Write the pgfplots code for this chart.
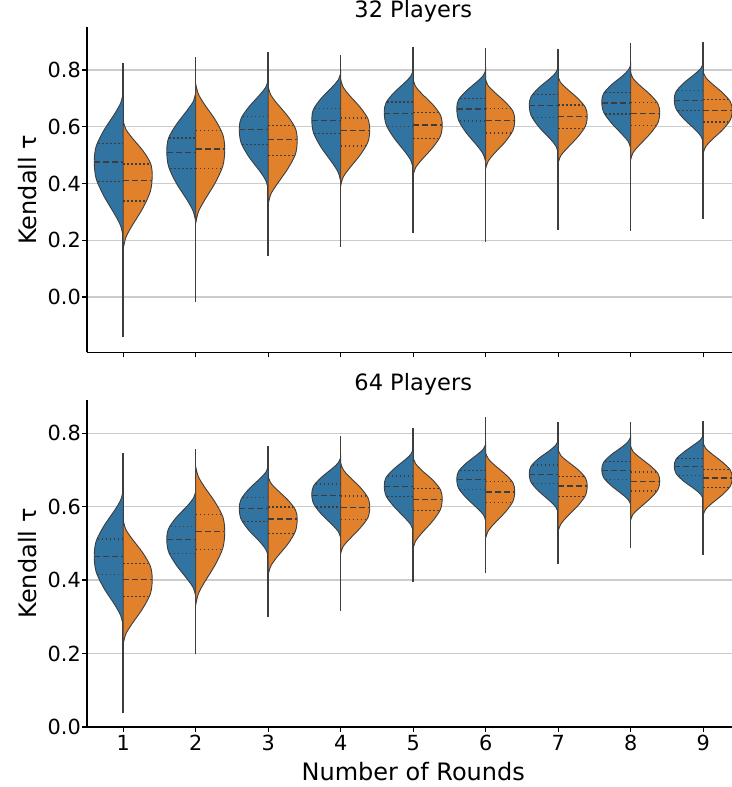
\documentclass[border=0pt]{standalone}
\usepackage{fontspec}
\setmainfont{DejaVu Sans}
\usepackage{pgfplots}
\usepackage{pgfplotstable}
\pgfplotsset{compat=1.18}
\definecolor{vblue}{RGB}{50,116,161}
\definecolor{vorange}{RGB}{225,129,44}
\definecolor{edge}{RGB}{61,61,61}

% half-violin profiles: w = half width, bK/oK = y of blue/orange half of round K
\pgfplotstableread{
w     b1   o1   b2   o2   b3   o3   b4   o4   b5   o5   b6   o6   b7   o7   b8   o8   b9   o9
0     .720 .620 .720 .750 .765 .740 .790 .765 .800 .765 .800 .765 .810 .776 .818 .790 .824 .793
0.035 .684 .592 .689 .716 .739 .712 .765 .739 .778 .741 .780 .744 .790 .755 .799 .769 .805 .773
0.115 .647 .563 .659 .681 .713 .684 .741 .712 .756 .717 .760 .723 .770 .735 .779 .748 .786 .753
0.27  .586 .516 .607 .624 .669 .637 .700 .668 .719 .678 .726 .687 .737 .700 .747 .713 .754 .719
0.375 .530 .472 .560 .571 .629 .594 .662 .628 .685 .641 .695 .655 .706 .668 .717 .681 .724 .688
0.40  .477 .430 .515 .520 .590 .553 .626 .589 .652 .606 .665 .624 .677 .638 .688 .650 .696 .658
0.375 .418 .373 .460 .463 .544 .503 .578 .546 .608 .567 .623 .587 .640 .602 .652 .614 .663 .625
0.27  .357 .313 .402 .403 .495 .452 .527 .501 .562 .527 .579 .547 .600 .564 .614 .576 .628 .590
0.115 .290 .248 .340 .338 .443 .395 .472 .452 .512 .483 .532 .505 .558 .522 .572 .534 .591 .553
0.035 .250 .209 .302 .299 .411 .362 .439 .423 .482 .457 .503 .479 .533 .498 .548 .510 .568 .530
0     .210 .170 .265 .260 .380 .328 .406 .394 .452 .431 .475 .454 .507 .473 .523 .485 .546 .508
}\toptab

\pgfplotstableread{
w     b1   o1   b2   o2   b3   o3   b4   o4   b5   o5   b6   o6   b7   o7   b8   o8   b9   o9
0     .645 .562 .641 .708 .710 .681 .734 .718 .757 .732 .770 .745 .780 .754 .790 .763 .795 .772
0.035 .618 .538 .622 .682 .693 .664 .719 .700 .742 .716 .756 .730 .767 .739 .777 .749 .782 .758
0.115 .591 .514 .602 .655 .676 .647 .704 .682 .727 .699 .742 .714 .753 .725 .763 .735 .770 .744
0.27  .546 .474 .570 .611 .647 .618 .679 .652 .702 .672 .718 .688 .731 .701 .741 .711 .748 .720
0.375 .505 .437 .540 .571 .620 .591 .656 .624 .679 .646 .696 .665 .710 .678 .720 .690 .729 .699
0.40  .465 .402 .511 .532 .595 .566 .634 .598 .657 .622 .675 .642 .690 .657 .700 .669 .710 .678
0.375 .423 .363 .477 .488 .566 .533 .608 .570 .629 .592 .650 .614 .666 .630 .679 .646 .690 .656
0.27  .379 .323 .441 .442 .536 .498 .580 .542 .601 .561 .624 .585 .642 .602 .657 .622 .669 .633
0.115 .332 .279 .402 .392 .504 .461 .550 .510 .569 .527 .595 .553 .615 .571 .633 .595 .647 .608
0.035 .303 .253 .379 .362 .484 .438 .532 .492 .551 .507 .578 .534 .599 .552 .619 .580 .633 .593
0     .275 .227 .356 .332 .465 .416 .514 .473 .532 .487 .561 .515 .583 .534 .605 .564 .620 .578
}\bottab

\pgfplotsset{
  bl/.style={fill=vblue, draw=edge, line width=0.9pt, smooth},
  ol/.style={fill=vorange, draw=edge, line width=0.9pt, smooth},
  qm/.style={edge, line width=1.3pt, dash pattern=on 6pt off 3pt},
  qs/.style={edge, line width=1.3pt, dash pattern=on 1.6pt off 2.4pt},
  common/.style={
    scale only axis, width=652.5pt,
    xmin=0.5, xmax=9.5,
    axis x line*=bottom, axis y line*=left,
    axis line style={-, black, line width=1.1pt},
    tick align=outside, major tick length=5pt,
    every tick/.style={black, line width=1.1pt},
    xtick={1,2,3,4,5,6,7,8,9},
    ytick={0,0.2,0.4,0.6,0.8},
    ymajorgrids,
    major grid style={gray!40, line width=1.1pt},
    /pgf/number format/assume math mode=true,
    ticklabel style={font=\fontsize{20.8}{24}\selectfont},
    yticklabel style={inner sep=1pt, /pgf/number format/fixed, /pgf/number format/fixed zerofill, /pgf/number format/precision=1},
    xticklabel style={inner sep=3pt},
    title style={font=\fontsize{22.5}{26}\selectfont, at={(0.5,1)}, anchor=base, yshift=3.5pt},
    label style={font=\fontsize{24}{28}\selectfont},
    ylabel={Kendall τ},
    ylabel style={at={(axis description cs:-0.077,0.5)}, anchor=base},
  },
}
\newcommand\vl[3]{\addplot[edge, line width=1.5pt] coordinates {(#1,#2) (#1,#3)};}
\newcommand\ql[4]{\addplot[#1] coordinates {(#2,#4) (#3,#4)};}
\newcommand\hb[3]{\addplot[bl] table[x expr={#2-\thisrow{w}}, y=#3] {#1} -- cycle;}
\newcommand\ho[3]{\addplot[ol] table[x expr={#2+\thisrow{w}}, y=#3] {#1} -- cycle;}

\begin{document}
\begin{tikzpicture}
\begin{axis}[common, at={(0,374.7pt)}, anchor=south west, height=325pt,
  ymin=-0.195, ymax=0.9505, xticklabels={}, title={32 Players}]
\vl{1}{-.141}{.826} \vl{2}{-.016}{.845} \vl{3}{.144}{.865} \vl{4}{.177}{.853} \vl{5}{.224}{.882}
\vl{6}{.195}{.876} \vl{7}{.236}{.873} \vl{8}{.233}{.896} \vl{9}{.274}{.898}
\hb{\toptab}{1}{b1} \ho{\toptab}{1}{o1}
\hb{\toptab}{2}{b2} \ho{\toptab}{2}{o2}
\hb{\toptab}{3}{b3} \ho{\toptab}{3}{o3}
\hb{\toptab}{4}{b4} \ho{\toptab}{4}{o4}
\hb{\toptab}{5}{b5} \ho{\toptab}{5}{o5}
\hb{\toptab}{6}{b6} \ho{\toptab}{6}{o6}
\hb{\toptab}{7}{b7} \ho{\toptab}{7}{o7}
\hb{\toptab}{8}{b8} \ho{\toptab}{8}{o8}
\hb{\toptab}{9}{b9} \ho{\toptab}{9}{o9}
\ql{qs}{0.655}{1}{.542} \ql{qm}{0.603}{1}{.476} \ql{qs}{0.655}{1}{.406}
\ql{qs}{1}{1.374}{.469} \ql{qm}{1}{1.397}{.411} \ql{qs}{1}{1.304}{.338}
\ql{qs}{1.63}{2}{.560} \ql{qm}{1.602}{2}{.510} \ql{qs}{1.646}{2}{.452}
\ql{qs}{2}{2.335}{.587} \ql{qm}{2}{2.398}{.522} \ql{qs}{2}{2.349}{.452}
\ql{qs}{2.648}{3}{.635} \ql{qm}{2.602}{3}{.590} \ql{qs}{2.644}{3}{.538}
\ql{qs}{3}{3.341}{.605} \ql{qm}{3}{3.398}{.554} \ql{qs}{3}{3.358}{.498}
\ql{qs}{3.639}{4}{.665} \ql{qm}{3.602}{4}{.623} \ql{qs}{3.631}{4}{.577}
\ql{qs}{4}{4.36}{.631} \ql{qm}{4}{4.398}{.586} \ql{qs}{4}{4.334}{.532}
\ql{qs}{4.638}{5}{.687} \ql{qm}{4.602}{5}{.646} \ql{qs}{4.645}{5}{.602}
\ql{qs}{5}{5.339}{.651} \ql{qm}{5}{5.398}{.606} \ql{qs}{5}{5.343}{.558}
\ql{qs}{5.649}{6}{.700} \ql{qm}{5.602}{6}{.663} \ql{qs}{5.638}{6}{.620}
\ql{qs}{6}{6.335}{.665} \ql{qm}{6}{6.398}{.623} \ql{qs}{6}{6.345}{.578}
\ql{qs}{6.655}{7}{.713} \ql{qm}{6.602}{7}{.674} \ql{qs}{6.649}{7}{.633}
\ql{qs}{7}{7.339}{.677} \ql{qm}{7}{7.398}{.637} \ql{qs}{7}{7.344}{.593}
\ql{qs}{7.647}{8}{.721} \ql{qm}{7.602}{8}{.684} \ql{qs}{7.65}{8}{.645}
\ql{qs}{8}{8.352}{.686} \ql{qm}{8}{8.398}{.647} \ql{qs}{8}{8.344}{.605}
\ql{qs}{8.645}{9}{.728} \ql{qm}{8.602}{9}{.693} \ql{qs}{8.653}{9}{.656}
\ql{qs}{9}{9.343}{.695} \ql{qm}{9}{9.398}{.658} \ql{qs}{9}{9.344}{.617}
\end{axis}

\begin{axis}[common, at={(0,0)}, anchor=south west, height=327pt,
  ymin=0, ymax=0.89, title={64 Players},
  xlabel={Number of Rounds},
  xlabel style={at={(axis description cs:0.5,-0.165)}, anchor=base}]
\vl{1}{.039}{.746} \vl{2}{.200}{.758} \vl{3}{.299}{.765} \vl{4}{.316}{.792} \vl{5}{.395}{.813}
\vl{6}{.418}{.844} \vl{7}{.445}{.831} \vl{8}{.486}{.829} \vl{9}{.468}{.833}
\hb{\bottab}{1}{b1} \ho{\bottab}{1}{o1}
\hb{\bottab}{2}{b2} \ho{\bottab}{2}{o2}
\hb{\bottab}{3}{b3} \ho{\bottab}{3}{o3}
\hb{\bottab}{4}{b4} \ho{\bottab}{4}{o4}
\hb{\bottab}{5}{b5} \ho{\bottab}{5}{o5}
\hb{\bottab}{6}{b6} \ho{\bottab}{6}{o6}
\hb{\bottab}{7}{b7} \ho{\bottab}{7}{o7}
\hb{\bottab}{8}{b8} \ho{\bottab}{8}{o8}
\hb{\bottab}{9}{b9} \ho{\bottab}{9}{o9}
\ql{qs}{.65}{1}{.512} \ql{qm}{.602}{1}{.465} \ql{qs}{.649}{1}{.416}
\ql{qs}{1}{1.346}{.445} \ql{qm}{1}{1.398}{.402} \ql{qs}{1}{1.346}{.355}
\ql{qs}{1.654}{2}{.546} \ql{qm}{1.602}{2}{.511} \ql{qs}{1.642}{2}{.473}
\ql{qs}{2}{2.347}{.579} \ql{qm}{2}{2.398}{.532} \ql{qs}{2}{2.36}{.484}
\ql{qs}{2.65}{3}{.625} \ql{qm}{2.602}{3}{.594} \ql{qs}{2.654}{3}{.560}
\ql{qs}{3}{3.337}{.599} \ql{qm}{3}{3.398}{.566} \ql{qs}{3}{3.35}{.527}
\ql{qs}{3.655}{4}{.661} \ql{qm}{3.602}{4}{.631} \ql{qs}{3.665}{4}{.599}
\ql{qs}{4}{4.351}{.629} \ql{qm}{4}{4.398}{.598} \ql{qs}{4}{4.348}{.565}
\ql{qs}{4.65}{5}{.683} \ql{qm}{4.602}{5}{.655} \ql{qs}{4.64}{5}{.627}
\ql{qs}{5}{5.352}{.650} \ql{qm}{5}{5.398}{.620} \ql{qs}{5}{5.362}{.590}
\ql{qs}{5.647}{6}{.699} \ql{qm}{5.602}{6}{.673} \ql{qs}{5.643}{6}{.647}
\ql{qs}{6}{6.354}{.668} \ql{qm}{6}{6.398}{.640} \ql{qs}{6}{6.358}{.611}
\ql{qs}{6.648}{7}{.713} \ql{qm}{6.602}{7}{.688} \ql{qs}{6.646}{7}{.663}
\ql{qs}{7}{7.351}{.682} \ql{qm}{7}{7.398}{.656} \ql{qs}{7}{7.362}{.628}
\ql{qs}{7.648}{8}{.723} \ql{qm}{7.602}{8}{.698} \ql{qs}{7.657}{8}{.674}
\ql{qs}{8}{8.348}{.694} \ql{qm}{8}{8.398}{.669} \ql{qs}{8}{8.351}{.642}
\ql{qs}{8.643}{9}{.731} \ql{qm}{8.602}{9}{.709} \ql{qs}{8.659}{9}{.685}
\ql{qs}{9}{9.363}{.700} \ql{qm}{9}{9.398}{.678} \ql{qs}{9}{9.35}{.652}
\end{axis}
\pgfresetboundingbox
\path[use as bounding box] (-87pt,-60pt) rectangle (644pt,727pt);
\end{tikzpicture}
\end{document}
